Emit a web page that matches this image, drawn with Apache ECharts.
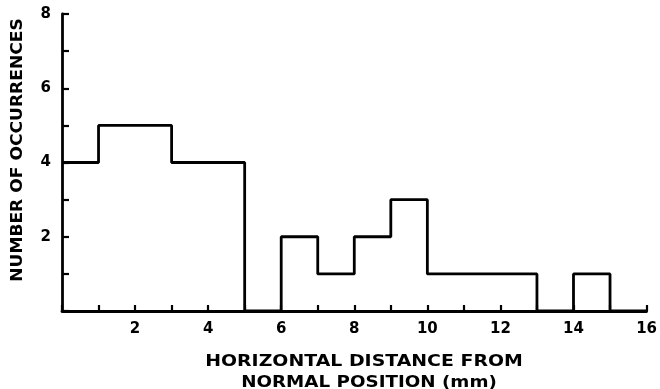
<!DOCTYPE html>
<html>
<head>
<meta charset="utf-8">
<script src="https://cdn.jsdelivr.net/npm/echarts@6/dist/echarts.min.js"></script>
<style>html,body{margin:0;padding:0;background:#fff}#c{width:660px;height:389px}</style>
</head>
<body>
<div id="c"></div>
<script>
// Histogram bins (mm) and counts
var binEdges = [0, 1, 2, 3, 4, 5, 6, 7, 8, 9, 10, 11, 12, 13, 14, 15, 16];
var counts   = [4, 5, 5, 4, 4, 0, 2, 1, 2, 3, 1, 1, 1, 0, 1, 0];
var xTicks = [2, 4, 6, 8, 10, 12, 14, 16];
var yTicks = [2, 4, 6, 8];
var xTitle1 = 'HORIZONTAL DISTANCE FROM';
var xTitle2 = 'NORMAL POSITION (mm)';
var yTitle = 'NUMBER OF OCCURRENCES';

var stepData = [];
for (var i = 0; i < counts.length; i++) stepData.push([binEdges[i], counts[i]]);
stepData.push([binEdges[binEdges.length - 1], counts[counts.length - 1]]);

var chart = echarts.init(document.getElementById('c'), null, {renderer: 'canvas'});
var font = 'DejaVu Sans';
chart.setOption({
  animation: false,
  backgroundColor: '#fff',
  grid: {left: 62, right: 7, top: 14, bottom: 78, containLabel: false},
  xAxis: {
    type: 'value', min: 0, max: 16, interval: 1,
    axisLine: {show: true, onZero: false, lineStyle: {color: '#000', width: 2.8}},
    axisTick: {show: true, inside: true, length: 6, lineStyle: {color: '#000', width: 2.2}},
    splitLine: {show: false},
    axisLabel: {
      color: '#000', fontFamily: font, fontWeight: 'bold', fontSize: 15, margin: 11,
      formatter: function (v) { return xTicks.indexOf(v) >= 0 ? String(v) : ''; }
    }
  },
  yAxis: {
    type: 'value', min: 0, max: 8, interval: 1,
    axisLine: {show: true, lineStyle: {color: '#000', width: 2.8}},
    axisTick: {show: true, inside: true, length: 7, lineStyle: {color: '#000', width: 2.2}},
    splitLine: {show: false},
    axisLabel: {
      color: '#000', fontFamily: font, fontWeight: 'bold', fontSize: 15, margin: 11,
      formatter: function (v) { return yTicks.indexOf(v) >= 0 ? String(v) : ''; }
    }
  },
  series: [{
    type: 'line', step: 'end', data: stepData, symbol: 'none',
    lineStyle: {color: '#000', width: 2.8}
  }],
  graphic: [
    {type: 'text', style: {text: xTitle1, font: 'bold 15px "DejaVu Sans"', fill: '#000', textAlign: 'center', textVerticalAlign: 'middle'}, x: 364, y: 362, scaleX: 1.26},
    {type: 'text', style: {text: xTitle2, font: 'bold 15px "DejaVu Sans"', fill: '#000', textAlign: 'center', textVerticalAlign: 'middle'}, x: 369, y: 383, scaleX: 1.22},
    {type: 'text', style: {text: yTitle, font: 'bold 15px "DejaVu Sans"', fill: '#000', textAlign: 'center', textVerticalAlign: 'middle'}, x: 18, y: 150, rotation: Math.PI / 2, scaleX: 1.14}
  ]
});
</script>
</body>
</html>
